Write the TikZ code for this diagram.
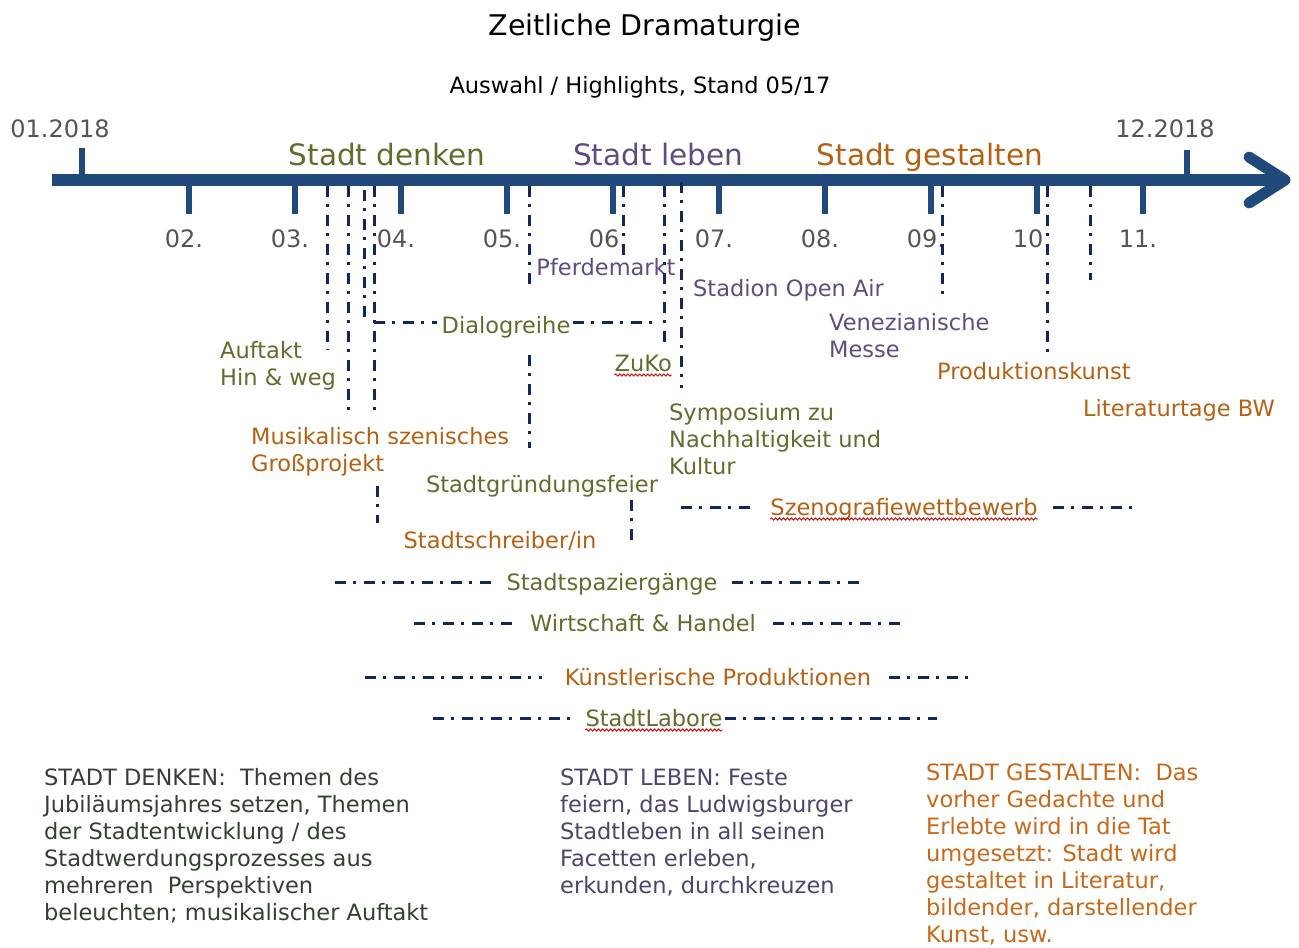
\documentclass[tikz,border=0pt]{standalone}
\usepackage{fontspec}
\setmainfont{DejaVu Sans}
\usetikzlibrary{decorations.pathmorphing}

\definecolor{axisblue}{RGB}{32,74,124}
\definecolor{evnavy}{RGB}{18,40,92}
\definecolor{denkgreen}{RGB}{95,110,45}
\definecolor{lebenpurple}{RGB}{96,76,128}
\definecolor{gestaltorange}{RGB}{182,96,18}
\definecolor{monthgray}{RGB}{85,85,85}
\definecolor{notegreen}{RGB}{52,64,50}
\definecolor{notepurple}{RGB}{78,68,108}
\definecolor{noteorange}{RGB}{200,104,24}

\newcommand{\fs}[2]{\fontsize{#1}{#2}\selectfont}

\begin{document}
\begin{tikzpicture}[x=1pt,y=-1pt,
  lbl/.style={inner sep=0pt,anchor=base west,font=\fs{22.5}{27},align=left},
  midlbl/.style={inner sep=0pt,anchor=base,font=\fs{22.5}{27}},
  mon/.style={inner sep=0pt,anchor=base,font=\fs{24}{28},text=monthgray},
  phase/.style={inner sep=0pt,anchor=base,font=\fs{29.5}{33}},
  evline/.style={evnavy,line width=3pt,dash pattern=on 11pt off 7pt on 3pt off 8pt},
  mtick/.style={axisblue,line width=6pt},
  spell/.style={red!85!black,line width=0.9pt,decorate,decoration={snake,amplitude=1.1pt,segment length=4pt}}]
\useasboundingbox (0,0) rectangle (1299,948);

% Title
\node[midlbl,font=\fs{28.5}{32}] (title) at (645,35) {Zeitliche Dramaturgie};
\node[midlbl,font=\fs{22.5}{27}] (subtitle) at (640,93) {Auswahl / Highlights, Stand 05/17};

% Time axis
\coordinate (axL) at (52,180);
\coordinate (axR) at (1285,180);
\draw[axisblue,line width=12pt] (axL) -- (axR);
\draw[axisblue,line width=11pt,line cap=round,line join=round] (1249,157) -- (axR) -- (1249,203);

% Year ticks
\draw[mtick] (82,148) -- (82,180);
\draw[mtick] (1187,150) -- (1187,180);
\node[mon] (jan) at (60,137) {01.2018};
\node[mon] (dec) at (1165,137) {12.2018};

% Month ticks
\draw[mtick] (189,180) -- (189,214);
\draw[mtick] (295,180) -- (295,214);
\draw[mtick] (401,180) -- (401,214);
\draw[mtick] (507,180) -- (507,214);
\draw[mtick] (613,180) -- (613,214);
\draw[mtick] (719,180) -- (719,214);
\draw[mtick] (825,180) -- (825,214);
\draw[mtick] (931,180) -- (931,214);
\draw[mtick] (1037,180) -- (1037,214);
\draw[mtick] (1143,180) -- (1143,214);
\node[mon] (feb) at (184,247) {02.};
\node[mon] (mar) at (290,247) {03.};
\node[mon] (apr) at (396,247) {04.};
\node[mon] (may) at (502,247) {05.};
\node[mon] (jun) at (608,247) {06.};
\node[mon] (jul) at (714,247) {07.};
\node[mon] (aug) at (820,247) {08.};
\node[mon] (sep) at (926,247) {09.};
\node[mon] (oct) at (1032,247) {10.};
\node[mon] (nov) at (1138,247) {11.};

% Phases
\node[phase,text=denkgreen] (denken) at (387,165) {Stadt denken};
\node[phase,text=lebenpurple] (leben) at (658,165) {Stadt leben};
\node[phase,text=gestaltorange] (gestalten) at (930,165) {Stadt gestalten};

% Single events (multi-line nodes sit on their last baseline)
\node[lbl,text=denkgreen] (auftakt) at (220,385) {Auftakt\\Hin \& weg};
\node[lbl,text=gestaltorange] (musik) at (251,471) {Musikalisch szenisches\\Großprojekt};
\node[midlbl,text=denkgreen] (gruendung) at (542,492) {Stadtgründungsfeier};
\node[midlbl,text=gestaltorange] (schreiber) at (500,548) {Stadtschreiber/in};
\node[midlbl,text=lebenpurple] (pferd) at (606,275) {Pferdemarkt};
\node[lbl,text=lebenpurple] (stadion) at (693,296) {Stadion Open Air};
\node[lbl,text=denkgreen,anchor=base east] (zuko) at (672,371) {ZuKo};
\node[lbl,text=denkgreen] (symp) at (669,474) {Symposium zu\\Nachhaltigkeit und\\Kultur};
\node[lbl,text=lebenpurple] (venez) at (829,357) {Venezianische\\Messe};
\node[lbl,text=gestaltorange] (prod) at (937,379) {Produktionskunst};
\node[lbl,text=gestaltorange] (lit) at (1083,416) {Literaturtage BW};

% Event lines from the axis
\coordinate (v1a) at (327,186); \coordinate (v1b) at (327,350);
\coordinate (v2a) at (348,186); \coordinate (v2b) at (348,412);
\coordinate (v3a) at (364,190); \coordinate (v3b) at (364,322);
\coordinate (v4a) at (374,186); \coordinate (v4b) at (374,412);
\coordinate (v5a) at (377,486); \coordinate (v5b) at (377,523);
\coordinate (v6a) at (529,186); \coordinate (v6b) at (529,290);
\coordinate (v6c) at (529,355); \coordinate (v6d) at (529,448);
\coordinate (v7a) at (623,186); \coordinate (v7b) at (623,258);
\coordinate (v8a) at (664,186); \coordinate (v8b) at (664,345);
\coordinate (v9a) at (681,182); \coordinate (v9b) at (681,388);
\coordinate (v10a) at (631,500); \coordinate (v10b) at (631,540);
\coordinate (v11a) at (942,186); \coordinate (v11b) at (942,300);
\coordinate (v12a) at (1047,186); \coordinate (v12b) at (1047,353);
\coordinate (v13a) at (1090,186); \coordinate (v13b) at (1090,280);
\draw[evline] (v1a) -- (v1b);
\draw[evline] (v2a) -- (v2b);
\draw[evline] (v3a) -- (v3b);
\draw[evline] (v4a) -- (v4b);
\draw[evline] (v5a) -- (v5b);
\draw[evline] (v6a) -- (v6b);
\draw[evline] (v6c) -- (v6d);
\draw[evline] (v7a) -- (v7b);
\draw[evline] (v8a) -- (v8b);
\draw[evline] (v9a) -- (v9b);
\draw[evline] (v10a) -- (v10b);
\draw[evline] (v11a) -- (v11b);
\draw[evline] (v12a) -- (v12b);
\draw[evline] (v13a) -- (v13b);

% Events over a period
\node[midlbl,text=denkgreen] (dialog) at (506,333) {Dialogreihe};
\node[midlbl,text=gestaltorange] (szeno) at (904,515) {Szenografiewettbewerb};
\node[midlbl,text=denkgreen] (spazier) at (612,590) {Stadtspaziergänge};
\node[midlbl,text=denkgreen] (handel) at (643,631) {Wirtschaft \& Handel};
\node[midlbl,text=gestaltorange] (kunst) at (718,685) {Künstlerische Produktionen};
\node[midlbl,text=denkgreen] (labore) at (654,726) {StadtLabore};

\coordinate (dlgA) at (374,322); \coordinate (dlgB) at (437,322);
\coordinate (dlgC) at (573,322); \coordinate (dlgD) at (657,322);
\coordinate (szA) at (681,507); \coordinate (szB) at (755,507);
\coordinate (szC) at (1053,507); \coordinate (szD) at (1138,507);
\coordinate (spA) at (335,582); \coordinate (spB) at (493,582);
\coordinate (spC) at (732,582); \coordinate (spD) at (866,582);
\coordinate (whA) at (414,623); \coordinate (whB) at (516,623);
\coordinate (whC) at (773,623); \coordinate (whD) at (907,623);
\coordinate (kpA) at (365,677); \coordinate (kpB) at (542,677);
\coordinate (kpC) at (889,677); \coordinate (kpD) at (973,677);
\coordinate (slA) at (433,718); \coordinate (slB) at (571,718);
\coordinate (slC) at (725,718); \coordinate (slD) at (937,718);
\draw[evline] (dlgA) -- (dlgB);
\draw[evline] (dlgC) -- (dlgD);
\draw[evline] (szA) -- (szB);
\draw[evline] (szC) -- (szD);
\draw[evline] (spA) -- (spB);
\draw[evline] (spC) -- (spD);
\draw[evline] (whA) -- (whB);
\draw[evline] (whC) -- (whD);
\draw[evline] (kpA) -- (kpB);
\draw[evline] (kpC) -- (kpD);
\draw[evline] (slA) -- (slB);
\draw[evline] (slC) -- (slD);

% Spell check marks
\draw[spell] ([yshift=-4pt]zuko.base west) -- ([yshift=-4pt]zuko.base east);
\draw[spell] ([yshift=-4pt]szeno.base west) -- ([yshift=-4pt]szeno.base east);
\draw[spell] ([yshift=-4pt]labore.base west) -- ([yshift=-4pt]labore.base east);

% Notes (multi-line nodes sit on their last baseline)
\node[lbl,text=notegreen] (notedenken) at (44,920) {STADT DENKEN:~ Themen des\\Jubiläumsjahres setzen, Themen\\der Stadtentwicklung / des\\Stadtwerdungsprozesses aus\\mehreren~ Perspektiven\\beleuchten; musikalischer Auftakt};
\node[lbl,text=notepurple] (noteleben) at (560,893) {STADT LEBEN: Feste\\feiern, das Ludwigsburger\\Stadtleben in all seinen\\Facetten erleben,\\erkunden, durchkreuzen};
\node[lbl,text=noteorange] (notegestalten) at (926,942) {STADT GESTALTEN:~ Das\\vorher Gedachte und\\Erlebte wird in die Tat\\umgesetzt: Stadt wird\\gestaltet in Literatur,\\bildender, darstellender\\Kunst, usw.};

\end{tikzpicture}
\end{document}
